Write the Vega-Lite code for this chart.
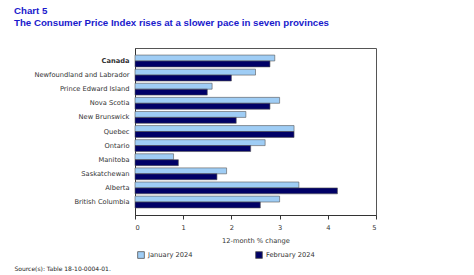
{
  "$schema": "https://vega.github.io/schema/vega-lite/v6.json",
  "autosize": "none",
  "width": 241,
  "height": 167,
  "padding": {"left": 135, "top": 48, "right": 98, "bottom": 60},
  "background": "white",
  "title": {
    "text": ["Chart 5", "The Consumer Price Index rises at a slower pace in seven provinces"],
    "anchor": "start",
    "frame": "group",
    "dx": -121,
    "offset": 20,
    "font": "Liberation Sans",
    "fontSize": 9.7,
    "fontWeight": "bold",
    "color": "#1a1acc",
    "lineHeight": 12
  },
  "data": {
    "values": [
      {"region": "Canada", "period": "January 2024", "value": 2.9},
      {"region": "Canada", "period": "February 2024", "value": 2.8},
      {"region": "Newfoundland and Labrador", "period": "January 2024", "value": 2.5},
      {"region": "Newfoundland and Labrador", "period": "February 2024", "value": 2.0},
      {"region": "Prince Edward Island", "period": "January 2024", "value": 1.6},
      {"region": "Prince Edward Island", "period": "February 2024", "value": 1.5},
      {"region": "Nova Scotia", "period": "January 2024", "value": 3.0},
      {"region": "Nova Scotia", "period": "February 2024", "value": 2.8},
      {"region": "New Brunswick", "period": "January 2024", "value": 2.3},
      {"region": "New Brunswick", "period": "February 2024", "value": 2.1},
      {"region": "Quebec", "period": "January 2024", "value": 3.3},
      {"region": "Quebec", "period": "February 2024", "value": 3.3},
      {"region": "Ontario", "period": "January 2024", "value": 2.7},
      {"region": "Ontario", "period": "February 2024", "value": 2.4},
      {"region": "Manitoba", "period": "January 2024", "value": 0.8},
      {"region": "Manitoba", "period": "February 2024", "value": 0.9},
      {"region": "Saskatchewan", "period": "January 2024", "value": 1.9},
      {"region": "Saskatchewan", "period": "February 2024", "value": 1.7},
      {"region": "Alberta", "period": "January 2024", "value": 3.4},
      {"region": "Alberta", "period": "February 2024", "value": 4.2},
      {"region": "British Columbia", "period": "January 2024", "value": 3.0},
      {"region": "British Columbia", "period": "February 2024", "value": 2.6}
    ]
  },
  "mark": {"type": "bar", "stroke": "#555555", "strokeWidth": 0.6},
  "encoding": {
    "y": {
      "field": "region",
      "type": "nominal",
      "sort": null,
      "scale": {"paddingInner": 0.16, "paddingOuter": 0.5},
      "axis": {
        "title": "Source(s): Table 18-10-0004-01.",
        "titleAngle": 0,
        "titleAlign": "left",
        "titleBaseline": "middle",
        "titleX": -121,
        "titleY": 220,
        "titleFont": "DejaVu Sans",
        "titleFontSize": 6,
        "titleFontWeight": "normal",
        "titleColor": "#222222",
        "ticks": false,
        "labelPadding": 6,
        "labelFont": "DejaVu Sans",
        "labelFontSize": 6.7,
        "labelColor": "#333333",
        "labelFontWeight": {"expr": "datum.value === 'Canada' ? 'bold' : 'normal'"},
        "domainColor": "#333333"
      }
    },
    "yOffset": {
      "field": "period",
      "type": "nominal",
      "sort": ["January 2024", "February 2024"]
    },
    "x": {
      "field": "value",
      "type": "quantitative",
      "scale": {"domain": [0, 5]},
      "axis": {
        "title": "12-month % change",
        "titleFont": "DejaVu Sans",
        "titleFontSize": 6.7,
        "titleFontWeight": "normal",
        "titleColor": "#333333",
        "titlePadding": 7,
        "values": [0, 1, 2, 3, 4, 5],
        "grid": false,
        "tickSize": 4,
        "tickColor": "#333333",
        "domainColor": "#333333",
        "labelFont": "DejaVu Sans",
        "labelFontSize": 6.7,
        "labelColor": "#333333",
        "labelPadding": 5
      }
    },
    "color": {
      "field": "period",
      "type": "nominal",
      "sort": ["January 2024", "February 2024"],
      "scale": {"range": ["#9fcdf5", "#000066"]},
      "legend": {
        "title": null,
        "orient": "none",
        "legendX": 2,
        "legendY": 203,
        "direction": "horizontal",
        "columns": 2,
        "columnPadding": 61,
        "symbolType": "square",
        "symbolSize": 45,
        "symbolStrokeColor": "#555555",
        "symbolStrokeWidth": 0.8,
        "labelFont": "DejaVu Sans",
        "labelFontSize": 6.7,
        "labelColor": "#333333",
        "labelOffset": 3
      }
    }
  },
  "config": {
    "view": {"stroke": "#555555", "strokeWidth": 1},
    "axis": {"domainWidth": 1}
  }
}
